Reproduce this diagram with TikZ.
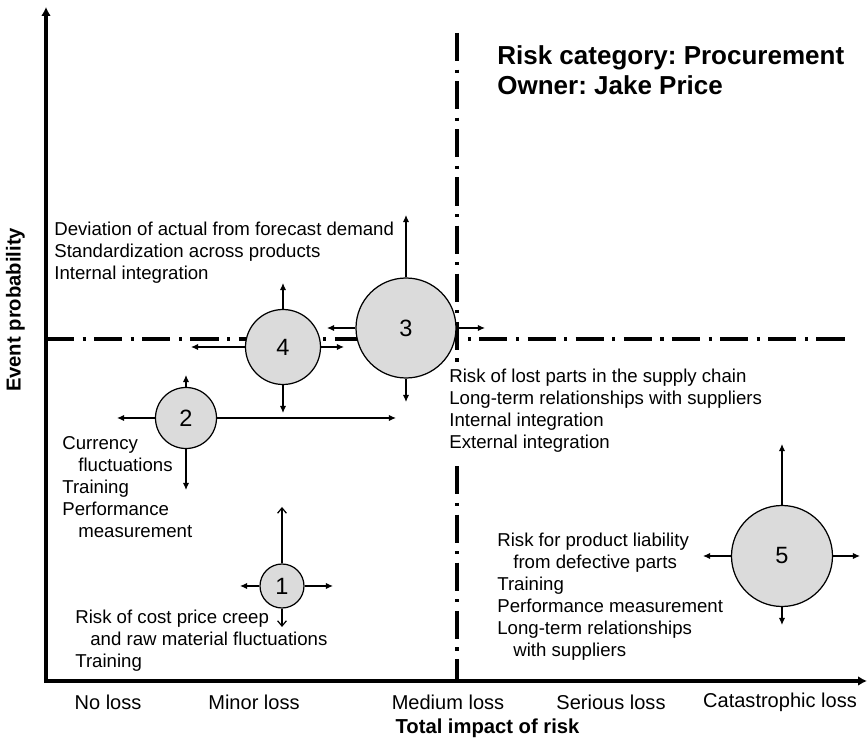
\documentclass[tikz,border=0pt]{standalone}
\usepackage{fontspec}
\setmainfont{Liberation Sans}
\frenchspacing
\usetikzlibrary{arrows.meta}
\begin{document}
\begin{tikzpicture}[scale=0.2]
\tikzstyle{every node}+=[inner sep=0pt]
\tikzstyle{bubble}=[draw=black, line width=0.7pt, fill=gray!28, circle, font=\fontsize{13.4}{16}\selectfont]
\tikzstyle{note}=[anchor=west, align=left, font=\fontsize{10.6}{12.5}\selectfont]
\tikzstyle{level}=[font=\fontsize{11.4}{13}\selectfont]
\tikzstyle{move}=[line width=0.7pt, -{Latex[length=4pt,width=3.6pt]}]
\tikzstyle{openmove}=[line width=0.7pt, -{Straight Barb[length=3pt,width=5pt]}]
\tikzstyle{axis}=[line width=2pt, {Latex[length=5pt,width=5.5pt]}-{Latex[length=5pt,width=5.5pt]}]
\tikzstyle{border}=[line width=2pt, dash pattern=on 16pt off 4.8pt on 1.8pt off 4.8pt]
\useasboundingbox (0,0) rectangle (86.8,-74.9);
% axes
\coordinate (ytop) at (4.6,-0.7);
\coordinate (o) at (4.6,-68.1);
\coordinate (xend) at (86.7,-68.1);
\draw [axis] (ytop) -- (o) -- (xend);
% quadrant borders
\coordinate (vtop) at (45.7,-3.3);
\coordinate (vbot) at (45.7,-68.1);
\coordinate (hleft) at (4.6,-33.9);
\coordinate (hright) at (85.1,-33.9);
\draw [border] (vtop) -- (vbot);
\draw [border] (hleft) -- (hright);
% risks
\node [bubble, minimum size=0.88cm] (r1) at (28.2,-58.6) {1};
\node [bubble, minimum size=1.22cm] (r2) at (18.6,-41.8) {2};
\node [bubble, minimum size=2cm] (r3) at (40.6,-32.8) {3};
\node [bubble, minimum size=1.5cm] (r4) at (28.3,-34.7) {4};
\node [bubble, minimum size=2.02cm] (r5) at (78.2,-55.6) {5};
\coordinate (r1u) at (28.2,-50.7);
\coordinate (r1l) at (24.0,-58.6);
\coordinate (r1r) at (33.3,-58.6);
\coordinate (r1d) at (28.2,-62.7);
\coordinate (r2u) at (18.6,-37.5);
\coordinate (r2l) at (11.7,-41.8);
\coordinate (r2r) at (39.6,-41.8);
\coordinate (r2d) at (18.6,-49.0);
\coordinate (r3u) at (40.6,-21.5);
\coordinate (r3l) at (32.7,-32.8);
\coordinate (r3r) at (48.5,-32.8);
\coordinate (r3d) at (40.6,-40.2);
\coordinate (r4u) at (28.3,-28.3);
\coordinate (r4l) at (19.1,-34.7);
\coordinate (r4r) at (34.4,-34.7);
\coordinate (r4d) at (28.3,-41.3);
\coordinate (r5u) at (78.2,-44.4);
\coordinate (r5l) at (70.3,-55.6);
\coordinate (r5r) at (86.0,-55.6);
\coordinate (r5d) at (78.2,-62.5);
\draw [openmove] (r1.north) -- (r1u);
\draw [move] (r1.west) -- (r1l);
\draw [move] (r1.east) -- (r1r);
\draw [openmove] (r1.south) -- (r1d);
\draw [move] (r2.north) -- (r2u);
\draw [move] (r2.west) -- (r2l);
\draw [move] (r2.east) -- (r2r);
\draw [move] (r2.south) -- (r2d);
\draw [move] (r3.north) -- (r3u);
\draw [move] (r3.west) -- (r3l);
\draw [move] (r3.east) -- (r3r);
\draw [move] (r3.south) -- (r3d);
\draw [move] (r4.north) -- (r4u);
\draw [move] (r4.west) -- (r4l);
\draw [move] (r4.east) -- (r4r);
\draw [move] (r4.south) -- (r4d);
\draw [move] (r5.north) -- (r5u);
\draw [move] (r5.west) -- (r5l);
\draw [move] (r5.east) -- (r5r);
\draw [move] (r5.south) -- (r5d);
% notes
\node [note] (t4) at (5.4,-25.25) {Deviation of actual from forecast demand\\Standardization across products\\Internal integration};
\node [note, fill=white, inner ysep=4pt] (t3) at (44.9,-41.05) {Risk of lost parts in the supply chain\\Long-term relationships with suppliers\\Internal integration\\External integration};
\node [note] (t2) at (6.2,-48.7) {Currency\\\hspace*{0.32cm}fluctuations\\Training\\Performance\\\hspace*{0.32cm}measurement};
\node [note] (t1) at (7.5,-64.1) {Risk of cost price creep\\\hspace*{0.3cm}and raw material fluctuations\\Training};
\node [note] (t5) at (49.7,-59.65) {Risk for product liability\\\hspace*{0.32cm}from defective parts\\Training\\Performance measurement\\Long-term relationships\\\hspace*{0.32cm}with suppliers};
\node [anchor=west, align=left, font=\bfseries\fontsize{14.8}{17}\selectfont] (title) at (49.7,-7.0) {Risk category: Procurement\\Owner: Jake Price};
% axis labels
\node [level] (l1) at (10.8,-70.2) {No loss};
\node [level] (l2) at (25.4,-70.2) {Minor loss};
\node [level] (l3) at (44.8,-70.2) {Medium loss};
\node [level] (l4) at (61.1,-70.2) {Serious loss};
\node [level] (l5) at (78.0,-70.2) {Catastrophic loss};
\node [font=\bfseries\fontsize{11.5}{13}\selectfont] (xlabel) at (48.75,-72.8) {Total impact of risk};
\node [rotate=90, font=\bfseries\fontsize{11.5}{13}\selectfont] (ylabel) at (1.55,-31.0) {Event probability};
\end{tikzpicture}
\end{document}
